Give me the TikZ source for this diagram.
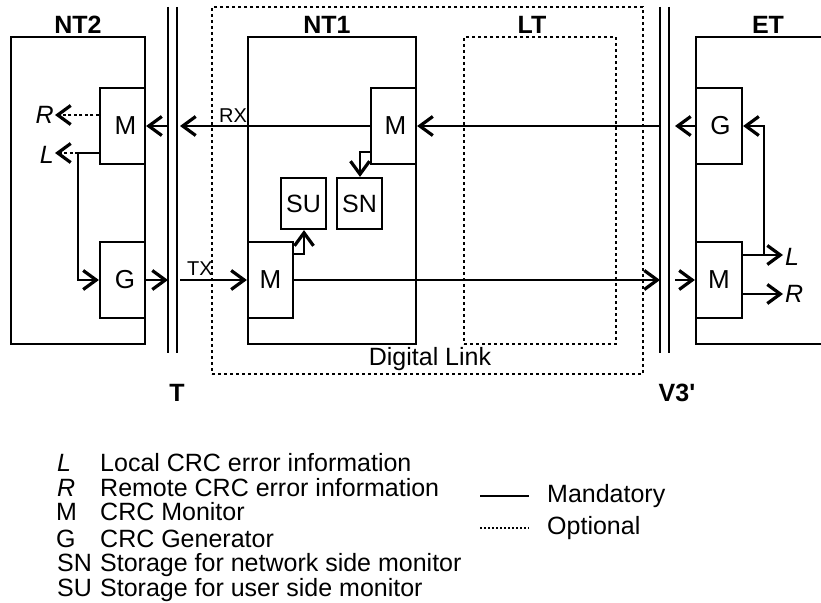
\documentclass[tikz,border=0pt]{standalone}
\usepackage{fontspec}
\setmainfont{Liberation Sans}
\usetikzlibrary{arrows.meta,calc}
\begin{document}
\begin{tikzpicture}[x=1pt,y=-1pt,
  every node/.style={font=\fontsize{25}{29}\selectfont},
  box/.style={draw, line width=2.2pt, inner sep=0pt, minimum width=45pt, minimum height=76pt, font=\fontsize{26}{30}\selectfont},
  sbox/.style={draw, line width=2.2pt, inner sep=0pt, minimum width=45pt, minimum height=51pt, font=\fontsize{25}{29}\selectfont},
  mainframe/.style={draw, line width=2.2pt, inner sep=0pt, minimum height=307pt},
  optframe/.style={draw, line width=1.6pt, dash pattern=on 3pt off 3pt, inner sep=0pt},
  conn/.style={line width=1.5pt},
  arr/.style={conn, -{Straight Barb[length=13pt,width=19pt,line width=3.2pt 0]}},
  optarr/.style={arr, dash pattern=on 3pt off 2.5pt},
  iface/.style={line width=1.4pt},
  ttl/.style={font=\fontsize{25}{29}\selectfont\bfseries},
  lbl/.style={font=\fontsize{20}{23}\selectfont, inner sep=0pt},
  legtxt/.style={anchor=base west, inner sep=0pt},
]
\useasboundingbox (0,0) rectangle (821,602);

% frames
\node[optframe, minimum width=431pt, minimum height=367pt] (dl) at (427.5,190.5) {};
\node[optframe, minimum width=152pt, minimum height=307pt] (lt) at (540,190.5) {};
\node[mainframe, minimum width=134pt] (nt2) at (78,190.5) {};
\node[mainframe, minimum width=168pt] (nt1) at (332,190.5) {};
\node[inner sep=0pt, minimum width=125pt, minimum height=307pt] (et) at (758.5,190.5) {};
\draw[line width=2.2pt] (et.north east) -- (et.north west) -- (et.south west) -- (et.south east);

% titles
\node[ttl] (lnt2) at (78,25) {NT2};
\node[ttl] (lnt1) at (327,25) {NT1};
\node[ttl] (llt) at (532,25) {LT};
\node[ttl] (let) at (768,25) {ET};
\node[ttl] (lT) at (177,393) {T};
\node[ttl] (lV) at (677,393) {V3\textquotesingle};
\node (ldl) at (430,359) {Digital Link};

% interface lines
\draw[iface] (168,7) -- (168,353);
\draw[iface] (177,7) -- (177,353);
\draw[iface] (660,7) -- (660,353);
\draw[iface] (669,7) -- (669,353);

% functional boxes
\node[box] (nt2m) at (122.5,126) {\hspace{6pt}M};
\node[box] (nt2g) at (122.5,280) {\hspace{5pt}G};
\node[box] (nt1m1) at (393.5,126) {\hspace{4pt}M};
\node[box] (nt1m2) at (270.5,280) {M};
\node[sbox] (su) at (303.5,203.5) {SU};
\node[sbox] (sn) at (359.5,203.5) {SN};
\node[box, minimum width=46pt] (etg) at (719,126) {\hspace{3pt}G};
\node[box, minimum width=46pt] (etm) at (719,280) {M};

% connector end points at the interfaces
\coordinate (rxT) at (180,126);
\coordinate (rxTl) at (168,126);
\coordinate (rxV) at (660,126);
\coordinate (rxVr) at (675,126);
\coordinate (txT) at (168,280);
\coordinate (txTr) at (180,280);
\coordinate (txV) at (660,280);
\coordinate (txVr) at (675,280);

% main data paths
\draw[arr] (rxV) -- (nt1m1.east);
\draw[arr] (nt1m1.west) -- (rxT);
\draw[arr] (rxTl) -- (nt2m.east);
\draw[arr] (etg.west) -- (rxVr);
\draw[arr] (nt2g.east) -- (txT);
\draw[arr] (txTr) -- (nt1m2.west);
\draw[arr] (nt1m2.east) -- (txV);
\draw[arr] (txVr) -- (etm.west);
\node[lbl] (rx) at (233,116) {RX};
\node[lbl] (tx) at (200,269) {TX};

% NT2 internals
\node[anchor=east, inner sep=1pt] (rl) at (55,115) {\itshape R};
\node[anchor=east, inner sep=1pt] (ll) at (55,155) {\itshape L};
\coordinate (lbr) at (78,153);
\draw[optarr] (nt2m.west |- rl.east) -- (rl.east);
\draw[conn] (nt2m.west |- lbr) -- (lbr);
\draw[arr] (lbr) |- (nt2g.west);
\draw[optarr] (lbr) -- (ll.east |- lbr);

% NT1 internals
\coordinate (snk) at (360,152);
\draw[arr] (nt1m1.west |- snk) -- (snk) -- (sn.north -| snk);
\coordinate (suk) at (304,254);
\draw[arr] (nt1m2.east |- suk) -- (suk) -- (su.south -| suk);

% ET internals
\node[anchor=west, inner sep=2pt] (lr) at (783,257) {\itshape L};
\node[anchor=west, inner sep=2pt] (rr) at (783,294) {\itshape R};
\coordinate (etk) at (764,255);
\draw[arr] (etm.east |- etk) -- (lr.west |- etk);
\draw[arr] (etk) |- (etg.east);
\draw[arr] (etm.east |- rr.west) -- (rr.west);

% legend
\node[legtxt] (k1) at (57,471) {\itshape L};
\node[legtxt] (v1) at (100,471) {Local CRC error information};
\node[legtxt] (k2) at (57,496.5) {\itshape R};
\node[legtxt] (v2) at (100,496.5) {Remote CRC error information};
\node[legtxt] (k3) at (56,520) {M};
\node[legtxt] (v3) at (100,520) {CRC Monitor};
\node[legtxt] (k4) at (56,547.5) {G};
\node[legtxt] (v4) at (100,547.5) {CRC Generator};
\node[legtxt] (k5) at (57,571.5) {SN};
\node[legtxt] (v5) at (100,571.5) {Storage for network side monitor};
\node[legtxt] (k6) at (57,596.5) {SU};
\node[legtxt] (v6) at (100,596.5) {Storage for user side monitor};

\draw[line width=1.5pt] (480,496) -- (529,496);
\draw[line width=1.2pt, dash pattern=on 2pt off 2pt] (480,528) -- (529,528);
\node[anchor=west, inner sep=0pt] (mand) at (547,496) {Mandatory};
\node[anchor=west, inner sep=0pt] (opt) at (547,528) {Optional};
\end{tikzpicture}
\end{document}
